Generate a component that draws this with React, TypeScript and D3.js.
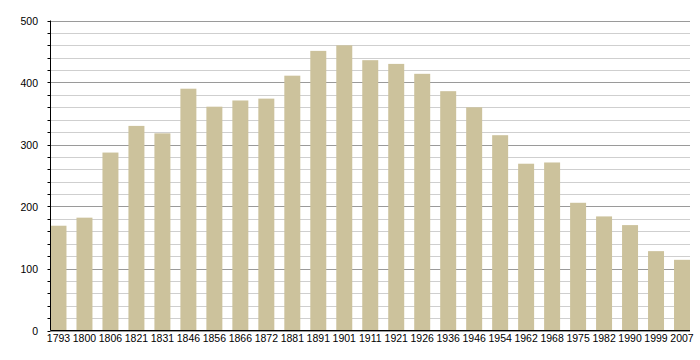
import React from "react";
import * as d3 from "d3";

const years = ["1793","1800","1806","1821","1831","1846","1856","1866","1872","1881","1891","1901","1911","1921","1926","1936","1946","1954","1962","1968","1975","1982","1990","1999","2007"];
const population = [169,182,287,330,318,390,361,371,374,411,451,460,436,430,414,386,360,315,269,271,206,184,170,128,114];
const majorTicks = [0,100,200,300,400,500];
const minorTicks = d3.range(0, 501, 20);

export default function App() {
  const W = 700, H = 360;
  const left = 50.5, right = 690, top = 20.5, bottom = 330.5;
  const x = d3.scaleBand<string>().domain(years).range([left, right]).paddingInner(0.385).paddingOuter(0);
  const y = d3.scaleLinear().domain([0, 500]).range([bottom, top]);
  const font = "'Liberation Sans', Arial, sans-serif";
  return (
    <svg width={W} height={H} style={{ position: "absolute", left: 0, top: 0, background: "#fff" }} fontFamily={font}>
      <rect width={W} height={H} fill="#fff" />
      {minorTicks.map(t => (
        <line key={"g" + t} x1={left} x2={right} y1={Math.round(y(t)) + 0.5} y2={Math.round(y(t)) + 0.5}
          stroke={t % 100 === 0 ? "#9a9a9a" : "#cfcfcf"} strokeWidth={1} />
      ))}
      {years.map((yr, i) => (
        <rect key={yr} x={x(yr)} y={y(population[i])} width={x.bandwidth()} height={bottom - y(population[i])} fill="#ccc29c" />
      ))}
      {minorTicks.map(t => (
        <line key={"t" + t} x1={left - 3} x2={left} y1={Math.round(y(t)) + 0.5} y2={Math.round(y(t)) + 0.5} stroke="#000" />
      ))}
      <line x1={left} x2={left} y1={top} y2={bottom} stroke="#000" />
      <line x1={left} x2={right} y1={bottom} y2={bottom} stroke="#000" />
      {majorTicks.map(t => (
        <text key={"l" + t} x={38} y={y(t) + 4} textAnchor="end" fontSize={10.5} fill="#000">{t}</text>
      ))}
      {years.map(yr => (
        <text key={"x" + yr} x={(x(yr) as number) + x.bandwidth() / 2} y={342} textAnchor="middle" fontSize={10.5} fill="#000">{yr}</text>
      ))}
    </svg>
  );
}
